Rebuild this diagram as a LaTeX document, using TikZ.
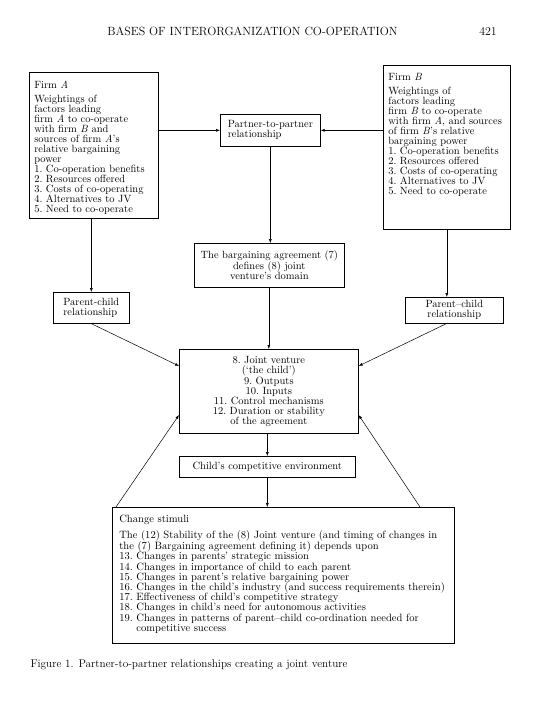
\documentclass[tikz,border=0pt]{standalone}
\usetikzlibrary{arrows.meta,calc}
\begin{document}
\begin{tikzpicture}[x=1pt,y=-1pt,
  box/.style={draw,line width=0.65pt,anchor=north west,inner sep=0pt},
  txt/.style={font=\fontsize{10.5}{10}\selectfont},
  arr/.style={-{Latex[length=4pt,width=3pt]},line width=0.5pt}]
\useasboundingbox (0,0) rectangle (540,720);
% header
\node[font=\fontsize{11.9}{13}\selectfont] (hdr) at (252.5,31) {BASES OF INTERORGANIZATION CO-OPERATION};
\node[font=\fontsize{11.9}{13}\selectfont] (pg) at (488,31) {421};
% Firm A
\node[box,txt,minimum width=129pt,minimum height=146pt] (firmA) at (29,72)
 {\parbox[c][128pt][t]{119pt}{\raggedright
 Firm \textit{A}\\[4pt]
 Weightings of\\
 factors leading\\
 firm \textit{A} to co-operate\\
 with firm \textit{B} and\\
 sources of firm \textit{A}'s\\
 relative bargaining\\
 power\\
 1.\ Co-operation benefits\\
 2.\ Resources offered\\
 3.\ Costs of co-operating\\
 4.\ Alternatives to JV\\
 5.\ Need to co-operate}};
% Firm B
\node[box,txt,minimum width=127pt,minimum height=164pt] (firmB) at (383,65)
 {\parbox[c][148pt][t]{117pt}{\raggedright
 Firm \textit{B}\\[4pt]
 Weightings of\\
 factors leading\\
 firm \textit{B} to co-operate\\
 with firm \textit{A}, and sources\\
 of firm \textit{B}'s relative\\
 bargaining power\\
 1.\ Co-operation benefits\\
 2.\ Resources offered\\
 3.\ Costs of co-operating\\
 4.\ Alternatives to JV\\
 5.\ Need to co-operate}};
% Partner-to-partner
\node[box,txt,minimum width=100pt,minimum height=32pt,align=left] (pp) at (220,114)
 {Partner-to-partner\\relationship};
% Bargaining
\node[box,txt,minimum width=150pt,minimum height=44pt,align=center] (barg) at (194,243)
 {The bargaining agreement (7)\\defines (8) joint\\venture's domain};
% Parent-child boxes
\node[box,txt,minimum width=76pt,minimum height=31pt,align=left] (pcl) at (53,292)
 {Parent-child\\relationship};
\node[box,txt,minimum width=98pt,minimum height=26pt,align=center] (pcr) at (405,297)
 {Parent--child\\relationship};
% Joint venture
\node[box,txt,minimum width=179pt,minimum height=84pt,align=center] (jv) at (179,349)
 {8.\ Joint venture\\(`the child')\\9.\ Outputs\\10.\ Inputs\\11.\ Control mechanisms\\12.\ Duration or stability\\of the agreement};
% Environment
\node[box,txt,minimum width=176pt,minimum height=21pt] (env) at (179,456)
 {Child's competitive environment};
% Change stimuli
\node[box,font=\fontsize{10.6}{10.2}\selectfont,minimum width=342pt,minimum height=136pt] (chg) at (112,507)
 {\parbox[c][120pt][t]{328pt}{\raggedright
 Change stimuli\\[5pt]
 The (12) Stability of the (8) Joint venture (and timing of changes in\\
 the (7) Bargaining agreement defining it) depends upon\\
 13.\ Changes in parents' strategic mission\\
 14.\ Changes in importance of child to each parent\\
 15.\ Changes in parent's relative bargaining power\\
 16.\ Changes in the child's industry (and success requirements therein)\\
 17.\ Effectiveness of child's competitive strategy\\
 18.\ Changes in child's need for autonomous activities\\
 19.\ Changes in patterns of parent--child co-ordination needed for\\
 \phantom{19.\ }competitive success}};
% caption
\node[anchor=west,font=\fontsize{11.2}{12}\selectfont] (cap) at (27,665)
 {Figure 1. Partner-to-partner relationships creating a joint venture};
% connectors
\draw[arr] (pp.west -| firmA.east) -- (pp.west);
\draw[arr] (pp.east -| firmB.west) -- (pp.east);
\draw[arr] (pp.south) -- (pp.south |- barg.north);
\draw[arr] (barg.south -| jv.north) -- (jv.north);
\draw[arr] (pcl.north |- firmA.south) -- (pcl.north);
\draw[arr] (firmB.south) -- (firmB.south |- pcr.north);
\coordinate (jvL1) at ($(jv.north west)+(0,17)$);
\coordinate (jvR1) at ($(jv.north east)+(0,17)$);
\coordinate (jvL2) at ($(jv.north west)+(0,66)$);
\coordinate (jvR2) at ($(jv.north east)+(0,66)$);
\coordinate (pcrB) at ($(pcr.south)+(-8,0)$);
\draw[arr] (pcl.south) -- (jvL1);
\draw[arr] (pcrB) -- (jvR1);
\draw[arr] (env.north |- jv.south) -- (env.north);
\draw[arr] (env.south) -- (env.south |- chg.north);
\coordinate (chgL) at ($(chg.north west)+(4,0)$);
\coordinate (chgR) at (420,507);
\draw[arr] (chgL) -- (jvL2);
\draw[arr] (chgR) -- (jvR2);
\end{tikzpicture}
\end{document}
